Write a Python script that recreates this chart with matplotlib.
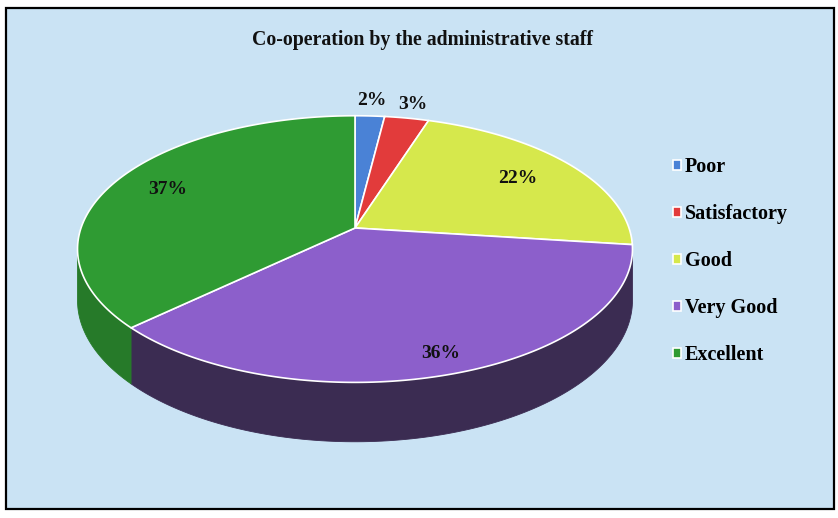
import numpy as np
import matplotlib
matplotlib.use("Agg")
import matplotlib.pyplot as plt
from matplotlib.patches import Polygon, Rectangle

# data
categories = ["Poor", "Satisfactory", "Good", "Very Good", "Excellent"]
shares = [2, 3, 22, 36, 37]
pct_labels = ["2%", "3%", "22%", "36%", "37%"]

top_colors = ["#4a82d6", "#e23b3b", "#d6e84c", "#8c5fcb", "#2f9b33"]
side_colors = ["#2f5a9a", "#9c2424", "#9aa82c", "#3b2c52", "#267a29"]
label_radius = [1.16, 1.14, 0.75, 0.88, 0.78]

plt.rcParams['font.family'] = ['Liberation Serif', 'DejaVu Serif']

fig = plt.figure(figsize=(8.38, 5.18), dpi=100)
fig.patch.set_facecolor("white")
ax = fig.add_axes([0, 0, 1, 1])
ax.set_xlim(0, 838)
ax.set_ylim(518, 0)
ax.axis("off")

# chart area (light blue panel with black frame)
ax.add_patch(Rectangle((6, 8), 828, 501, facecolor="#cae3f4",
                       edgecolor="black", linewidth=1.6, zorder=0))

# pie geometry (pixel units), with a little perspective
cx, cy = 355, 228
rx, ry = 274, 130
k = 0.158
depth = 50


def project(theta, f=1.0):
    # theta measured clockwise from 12 o'clock
    u = f * np.sin(theta)
    v = f * np.cos(theta)
    s = 1.0 / (1.0 + k * v)
    return cx + rx * u * s, cy - ry * v * s, s


angles = np.cumsum([0] + shares) / sum(shares) * 2 * np.pi
vis_lo = np.arccos(-k)
vis_hi = 2 * np.pi - vis_lo

# side walls
for i in range(len(shares)):
    a0 = max(angles[i], vis_lo)
    a1 = min(angles[i + 1], vis_hi)
    if a1 <= a0:
        continue
    t = np.linspace(a0, a1, 120)
    x, y, s = project(t)
    pts = np.column_stack([np.r_[x, x[::-1]],
                           np.r_[y, (y + depth * s)[::-1]]])
    ax.add_patch(Polygon(pts, closed=True, facecolor=side_colors[i],
                         edgecolor=side_colors[i], linewidth=0.6, zorder=2))

# top faces
for i in range(len(shares)):
    t = np.linspace(angles[i], angles[i + 1], 200)
    x, y, _ = project(t)
    pts = np.column_stack([np.r_[cx, x], np.r_[cy, y]])
    ax.add_patch(Polygon(pts, closed=True, facecolor=top_colors[i],
                         edgecolor="white", linewidth=1.2, zorder=3,
                         label=categories[i]))

# percentage labels
for i in range(len(shares)):
    mid = (angles[i] + angles[i + 1]) / 2
    lx, ly, _ = project(mid, label_radius[i])
    ax.text(lx, ly, pct_labels[i], ha="center", va="center",
            fontsize=14, fontweight="bold", color="#111111", zorder=5)

ax.text(422, 40, "Co-operation by the administrative staff", ha="center",
        va="center", fontsize=14.3, fontweight="bold", color="#111111")

ax.legend(loc="upper left", bbox_to_anchor=(0.781, 0.731), frameon=False,
          prop={"size": 14.5, "weight": "bold"}, handlelength=0.4,
          handleheight=0.4, handletextpad=0.2, labelspacing=1.34)

fig.savefig("out.png", dpi=100, facecolor=fig.get_facecolor())
